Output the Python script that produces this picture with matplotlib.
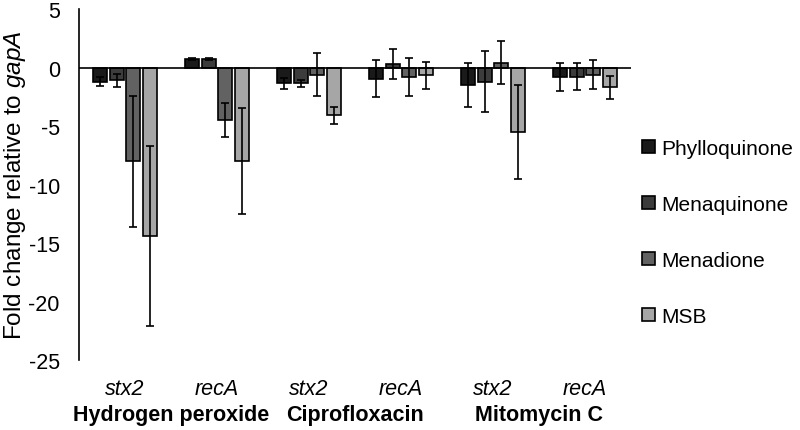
import numpy as np
import matplotlib.pyplot as plt
import matplotlib.transforms as mtransforms

plt.rcParams['font.family'] = ['Liberation Sans', 'DejaVu Sans']
plt.rcParams['mathtext.fontset'] = 'custom'
plt.rcParams['mathtext.rm'] = 'Liberation Sans'
plt.rcParams['mathtext.it'] = 'Liberation Sans:italic'
plt.rcParams['axes.unicode_minus'] = False

genes = ['stx2', 'recA', 'stx2', 'recA', 'stx2', 'recA']
treatments = ['Hydrogen peroxide', 'Ciprofloxacin', 'Mitomycin C']
compounds = ['Phylloquinone', 'Menaquinone', 'Menadione', 'MSB']

phyllo = [-1.2, 0.7, -1.35, -0.95, -1.5, -0.8]
phyllo_err = [0.4, 0.1, 0.45, 1.6, 1.85, 1.2]
menaq = [-1.1, 0.7, -1.35, 0.3, -1.2, -0.8]
menaq_err = [0.55, 0.1, 0.3, 1.3, 2.6, 1.15]
menad = [-8.0, -4.5, -0.6, -0.8, 0.4, -0.6]
menad_err = [5.6, 1.45, 1.85, 1.6, 1.85, 1.2]
msb = [-14.4, -8.0, -4.1, -0.65, -5.5, -1.7]
msb_err = [7.7, 4.5, 0.75, 1.15, 4.0, 1.0]

means = [phyllo, menaq, menad, msb]
errs = [phyllo_err, menaq_err, menad_err, msb_err]
colors = ['#1a1a1a', '#3c3c3c', '#626262', '#a6a6a6']

fig = plt.figure(figsize=(8, 4.31), dpi=100)
ax = fig.add_axes([0.099, 0.1624, 0.69, 0.8144])

x = np.arange(len(genes))
w = 0.152
step = 0.18
handles = []
for i in range(4):
    b = ax.bar(x + (i - 1.5) * step, means[i], w, color=colors[i],
               edgecolor='black', linewidth=1.2, label=compounds[i], zorder=2)
    ax.errorbar(x + (i - 1.5) * step, means[i], yerr=errs[i], fmt='none',
                ecolor='black', elinewidth=1.2, capsize=3, capthick=1.2, zorder=3)
    handles.append(b)

ax.axhline(0, color='black', linewidth=1.2, zorder=4)
ax.set_xlim(-0.5, 5.5)
ax.set_ylim(-25, 5)
ax.set_yticks(np.arange(-25, 6, 5))
ax.set_xticks([])
ax.tick_params(axis='y', length=0, pad=14, labelsize=15.5)
for s in ['top', 'right', 'bottom']:
    ax.spines[s].set_visible(False)
ax.spines['left'].set_linewidth(1.2)
ax.set_ylabel(r'Fold change relative to $\it{gapA}$', fontsize=17.5)
ax.yaxis.set_label_coords(-0.092, 0.5)

trans = mtransforms.blended_transform_factory(ax.transData, fig.transFigure)
for xi, g in zip(x, genes):
    ax.text(xi, 0.097, g, transform=trans, ha='center', va='center',
            fontsize=15.5, style='italic')
for k, t in enumerate(treatments):
    ax.text(2 * k + 0.5, 0.035, t, transform=trans, ha='center', va='center',
            fontsize=15.5, fontweight='bold')

fig.legend(handles=handles, labels=compounds, loc='center left',
           bbox_to_anchor=(0.803, 0.458), frameon=False, fontsize=15,
           handlelength=0.6, handleheight=0.6, handletextpad=0.3,
           labelspacing=1.78, borderpad=0, borderaxespad=0)

fig.savefig('out.png', dpi=100)
